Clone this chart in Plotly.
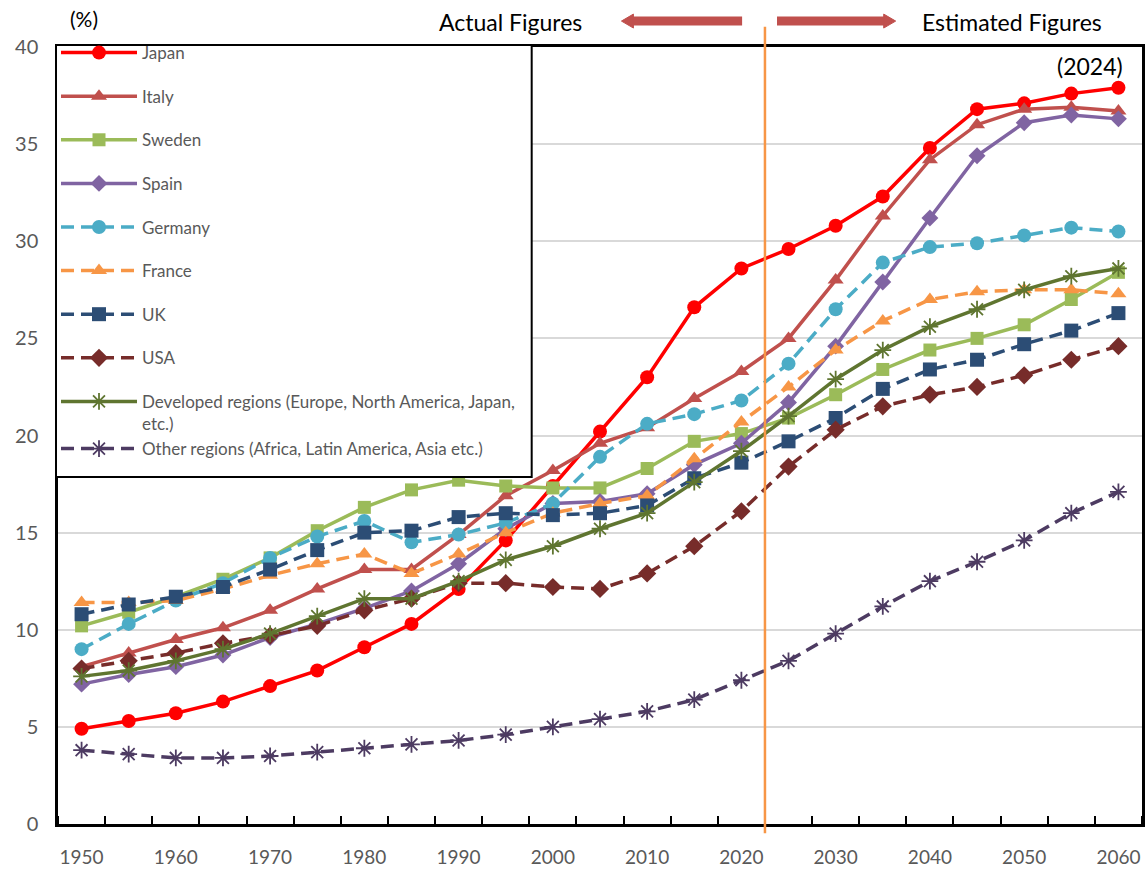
import plotly.graph_objects as go

# Share of population aged 65 and over (%), 1950-2060
years = list(range(1950, 2061, 5))

japan = [4.9, 5.3, 5.7, 6.3, 7.1, 7.9, 9.1, 10.3, 12.1, 14.6, 17.4, 20.2, 23.0, 26.6,
         28.6, 29.6, 30.8, 32.3, 34.8, 36.8, 37.1, 37.6, 37.9]
italy = [8.1, 8.8, 9.5, 10.1, 11.0, 12.1, 13.1, 13.1, 14.9, 16.9, 18.2, 19.6, 20.4, 21.9,
         23.3, 25.0, 28.0, 31.3, 34.2, 36.0, 36.8, 36.9, 36.7]
sweden = [10.2, 10.9, 11.7, 12.6, 13.7, 15.1, 16.3, 17.2, 17.7, 17.4, 17.3, 17.3, 18.3, 19.7,
          20.1, 20.9, 22.1, 23.4, 24.4, 25.0, 25.7, 27.0, 28.4]
spain = [7.2, 7.7, 8.1, 8.7, 9.6, 10.3, 11.1, 12.0, 13.4, 15.2, 16.5, 16.6, 17.0, 18.5,
         19.6, 21.7, 24.6, 27.9, 31.2, 34.4, 36.1, 36.5, 36.3]
germany = [9.0, 10.3, 11.5, 12.4, 13.7, 14.8, 15.6, 14.5, 14.9, 15.5, 16.5, 18.9, 20.6, 21.1,
           21.8, 23.7, 26.5, 28.9, 29.7, 29.9, 30.3, 30.7, 30.5]
france = [11.4, 11.4, 11.5, 12.1, 12.8, 13.4, 13.9, 12.9, 13.9, 15.0, 16.0, 16.5, 16.9, 18.8,
          20.7, 22.5, 24.4, 25.9, 27.0, 27.4, 27.5, 27.5, 27.3]
uk = [10.8, 11.3, 11.7, 12.2, 13.1, 14.1, 15.0, 15.1, 15.8, 16.0, 15.9, 16.0, 16.4, 17.8,
      18.6, 19.7, 20.9, 22.4, 23.4, 23.9, 24.7, 25.4, 26.3]
usa = [8.0, 8.4, 8.8, 9.3, 9.7, 10.2, 11.0, 11.6, 12.4, 12.4, 12.2, 12.1, 12.9, 14.3,
       16.1, 18.4, 20.3, 21.5, 22.1, 22.5, 23.1, 23.9, 24.6]
developed = [7.6, 7.9, 8.4, 9.0, 9.8, 10.7, 11.6, 11.6, 12.5, 13.6, 14.3, 15.2, 16.0, 17.6,
             19.2, 21.0, 22.9, 24.4, 25.6, 26.5, 27.5, 28.2, 28.6]
other = [3.8, 3.6, 3.4, 3.4, 3.5, 3.7, 3.9, 4.1, 4.3, 4.6, 5.0, 5.4, 5.8, 6.4,
         7.4, 8.4, 9.8, 11.2, 12.5, 13.5, 14.6, 16.0, 17.1]

x_ticks = list(range(1950, 2061, 10))
y_ticks = [0, 5, 10, 15, 20, 25, 30, 35, 40]

FONT = "Lato"
DASH = "13px,7px"

series = [
    ("Japan", japan, "#FF0000", "solid", "circle", 14, "g1"),
    ("Italy", italy, "#C0504D", "solid", "triangle-up", 14, "g2"),
    ("Sweden", sweden, "#9BBB59", "solid", "square", 13, "g3"),
    ("Spain", spain, "#8064A2", "solid", "diamond", 13, "g4"),
    ("Germany", germany, "#4BACC6", DASH, "circle", 14, "g5"),
    ("France", france, "#F79646", DASH, "triangle-up", 14, "g6"),
    ("UK", uk, "#2C4D75", DASH, "square", 14, "g7"),
    ("USA", usa, "#772C2A", DASH, "diamond", 14, "g8"),
    ("Developed regions (Europe, North America, Japan,<br>etc.)", developed, "#5F7530",
     "solid", "asterisk-open", 14, "g9"),
    ("Other regions (Africa, Latin America, Asia etc.)", other, "#4D3B62", DASH,
     "asterisk-open", 14, "g9"),
]

fig = go.Figure()
for name, vals, color, dash, symbol, size, group in series:
    star = symbol.startswith("asterisk")
    fig.add_trace(go.Scatter(
        x=years, y=vals, name=name, mode="lines+markers",
        legendgroup=group,
        line=dict(color=color, width=3.5, dash=dash),
        marker=dict(symbol=symbol, size=size, color=color,
                    line=dict(color=color, width=1.8 if star else 0)),
    ))

# pixel -> paper coordinates helpers
W, H = 1087.0, 779.0
def px(xp):
    return (xp - 58) / W
def py(yp):
    return (826 - yp) / H

# boundary between actual and estimated figures
fig.add_shape(type="line", xref="x", yref="paper", x0=2022.5, x1=2022.5,
              y0=-0.012, y1=1.026, line=dict(color="#F79646", width=2.5))

# framed white panel behind the legend entries
fig.add_shape(type="rect", xref="paper", yref="paper", layer="above",
              x0=px(56), x1=px(533), y0=py(478), y1=py(45),
              fillcolor="white", line=dict(color="black", width=2))

# header arrows
arrow_col = "#C0504D"
fig.add_shape(type="line", xref="paper", yref="paper", x0=px(633), x1=px(744),
              y0=py(21), y1=py(21), line=dict(color=arrow_col, width=9))
fig.add_shape(type="path", xref="paper", yref="paper",
              path=f"M {px(623)},{py(21)} L {px(635)},{py(14)} L {px(635)},{py(28)} Z",
              fillcolor=arrow_col, line=dict(color=arrow_col, width=1))
fig.add_shape(type="line", xref="paper", yref="paper", x0=px(779), x1=px(888),
              y0=py(21), y1=py(21), line=dict(color=arrow_col, width=9))
fig.add_shape(type="path", xref="paper", yref="paper",
              path=f"M {px(898)},{py(21)} L {px(886)},{py(14)} L {px(886)},{py(28)} Z",
              fillcolor=arrow_col, line=dict(color=arrow_col, width=1))

ann_font = dict(family=FONT, size=23, color="black")
fig.add_annotation(xref="paper", yref="paper", x=px(512), y=py(22), text="Actual Figures",
                   showarrow=False, font=ann_font, xanchor="center", yanchor="middle")
fig.add_annotation(xref="paper", yref="paper", x=px(1015), y=py(22), text="Estimated Figures",
                   showarrow=False, font=ann_font, xanchor="center", yanchor="middle")
fig.add_annotation(xref="paper", yref="paper", x=px(1128), y=py(66), text="(2024)",
                   showarrow=False, font=ann_font, xanchor="right", yanchor="middle")
fig.add_annotation(xref="paper", yref="paper", x=px(84), y=py(18), text="(%)",
                   showarrow=False, font=dict(family=FONT, size=21, color="black"),
                   xanchor="center", yanchor="middle")

fig.update_layout(
    width=1147, height=870,
    margin=dict(l=58, r=2, t=47, b=44),
    paper_bgcolor="white", plot_bgcolor="white",
    font=dict(family=FONT, color="#595959"),
    showlegend=True,
    legend=dict(
        x=px(56), y=py(35), xanchor="left", yanchor="top",
        bgcolor="rgba(0,0,0,0)", borderwidth=0,
        font=dict(family=FONT, size=17, color="#595959"),
        itemwidth=76, tracegroupgap=18.5, traceorder="grouped",
        valign="top", groupclick="toggleitem", maxheight=2000,
    ),
    xaxis=dict(
        range=[1947.5, 2062.5], tickvals=x_ticks, ticktext=[str(v) for v in x_ticks],
        ticks="", showgrid=False, zeroline=False,
        showline=True, linecolor="black", linewidth=2.5, mirror=True,
        tickfont=dict(family=FONT, size=19, color="#595959"), ticklabelstandoff=14,
        minor=dict(tick0=1952.5, dtick=5, ticks="inside", ticklen=8,
                   tickcolor="black", tickwidth=1.5, showgrid=False),
    ),
    yaxis=dict(
        range=[0, 40], tickvals=y_ticks, ticks="",
        showgrid=True, gridcolor="#D9D9D9", gridwidth=2, zeroline=False,
        showline=True, linecolor="black", linewidth=2.5, mirror=True,
        tickfont=dict(family=FONT, size=20, color="#595959"), ticklabelstandoff=13,
    ),
)

fig.write_html("out.html")
